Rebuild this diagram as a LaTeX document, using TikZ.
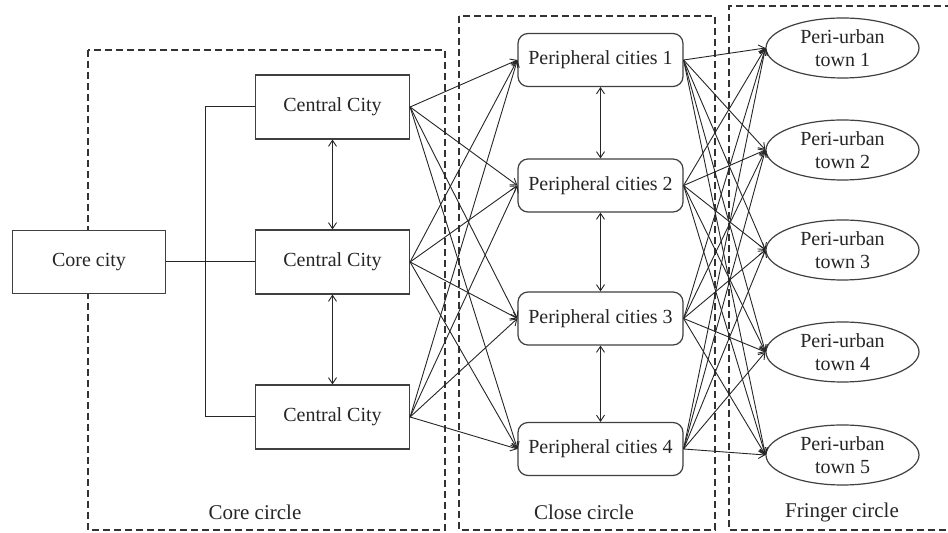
\documentclass[tikz,border=0pt]{standalone}
\usepackage{fontspec}
\setmainfont{Liberation Serif}
\usetikzlibrary{arrows.meta,shapes.geometric}
\begin{document}
\begin{tikzpicture}[x=0.5pt,y=-0.5pt,
  every node/.style={font=\fontsize{10}{11.5}\selectfont, text=black!85},
  sqbox/.style={draw=black!75, line width=0.6pt, fill=white, minimum width=77pt, minimum height=32pt, inner sep=1pt},
  rbox/.style={draw=black!75, line width=0.6pt, fill=white, rounded corners=5pt, minimum width=82.5pt, minimum height=26.5pt, inner sep=1pt},
  town/.style={draw=black!75, line width=0.6pt, fill=white, ellipse, minimum width=76.5pt, minimum height=30pt, inner sep=0pt, align=center},
  zone/.style={draw=black!80, line width=0.65pt, dash pattern=on 3.5pt off 2pt},
  link/.style={draw=black!85, line width=0.45pt, -{Straight Barb[length=3pt,width=4pt]}},
  dlink/.style={draw=black!85, line width=0.45pt, {Straight Barb[length=3pt,width=4pt]}-{Straight Barb[length=3pt,width=4pt]}},
  plain/.style={draw=black!85, line width=0.5pt},
  lbl/.style={font=\fontsize{10.5}{12}\selectfont}
]
\useasboundingbox (0,0) rectangle (948,533);
% zones
\draw[zone] (88,50) rectangle (445,530);
\draw[zone] (459,16) rectangle (715,530);
\draw[zone] (952,6) -- (729,6) -- (729,530) -- (952,530);
\node[lbl] (zcore) at (255,512) {Core circle};
\node[lbl] (zclose) at (584,512) {Close circle};
\node[lbl] (zfringe) at (842,512) {Fringer circle};
% nodes
\node[sqbox, minimum width=76.5pt, minimum height=31.5pt] (core) at (89,262) {Core city};
\node[sqbox] (c1) at (332.5,107) {Central City};
\node[sqbox] (c2) at (332.5,262) {Central City};
\node[sqbox] (c3) at (332.5,417) {Central City};
\node[rbox] (p1) at (600.5,60) {Peripheral cities 1};
\node[rbox] (p2) at (600.5,185.5) {Peripheral cities 2};
\node[rbox] (p3) at (600.5,318.5) {Peripheral cities 3};
\node[rbox] (p4) at (600.5,449) {Peripheral cities 4};
\node[town] (t1) at (842.5,48) {Peri-urban\\town 1};
\node[town] (t2) at (842.5,150) {Peri-urban\\town 2};
\node[town] (t3) at (842.5,250) {Peri-urban\\town 3};
\node[town] (t4) at (842.5,352) {Peri-urban\\town 4};
\node[town] (t5) at (842.5,455) {Peri-urban\\town 5};
% bracket
\draw[plain] (c1.west) -- ++(-49,0) |- (c3.west);
\draw[plain] (core.east) -- (c2.west);
% vertical double arrows
\draw[dlink] (c1.south) -- (c2.north);
\draw[dlink] (c2.south) -- (c3.north);
\draw[dlink] (p1.south) -- (p2.north);
\draw[dlink] (p2.south) -- (p3.north);
\draw[dlink] (p3.south) -- (p4.north);
% central -> peripheral
\foreach \c in {c1,c2,c3}{
  \foreach \p in {p1,p2,p3,p4}{
    \draw[link] (\c.east) -- (\p.west);
  }
}
% peripheral -> towns
\foreach \p in {p1,p2,p3,p4}{
  \foreach \t in {t1,t2,t3,t4,t5}{
    \draw[link] (\p.east) -- (\t.west);
  }
}
\end{tikzpicture}
\end{document}
